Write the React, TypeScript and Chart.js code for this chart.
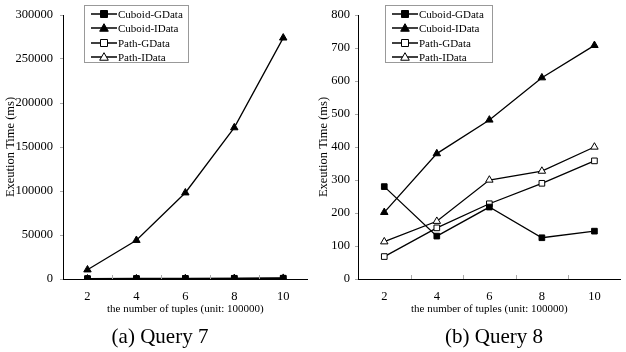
import React, { useEffect, useRef } from 'react';
import { Chart, registerables } from 'chart.js';

Chart.register(...registerables);

// ---- data ----
const categories = ['2', '4', '6', '8', '10'];
const seriesNames = ['Cuboid-GData', 'Cuboid-IData', 'Path-GData', 'Path-IData'];

// Query 7
const q7CuboidGData = [520, 610, 700, 820, 930];
const q7CuboidIData = [10500, 44000, 98000, 172000, 274000];
const q7PathGData = [120, 260, 400, 520, 680];
const q7PathIData = [200, 350, 500, 700, 900];
const q7YTicks = { min: 0, max: 300000, step: 50000 };

// Query 8
const q8CuboidGData = [280, 130, 218, 125, 145];
const q8CuboidIData = [202, 380, 482, 610, 708];
const q8PathGData = [68, 155, 228, 290, 358];
const q8PathIData = [113, 175, 300, 327, 400];
const q8YTicks = { min: 0, max: 800, step: 100 };

const xTitle = 'the number of tuples (unit: 100000)';
const yTitle = 'Exeution Time (ms)';

const FONT = 'Liberation Serif';

const markerStyles = [
  { shape: 'rect', fill: '#000', r: 4 },
  { shape: 'triangle', fill: '#000', r: 4.3 },
  { shape: 'rect', fill: '#fff', r: 4 },
  { shape: 'triangle', fill: '#fff', r: 4.3 },
];

function drawMarker(ctx: CanvasRenderingContext2D, shape: string, x: number, y: number, r: number, fill: string) {
  ctx.save();
  ctx.fillStyle = fill;
  ctx.strokeStyle = '#000';
  ctx.lineWidth = 1;
  ctx.beginPath();
  if (shape === 'rect') {
    ctx.rect(x - r + 0.5, y - r + 0.5, 2 * r - 1, 2 * r - 1);
  } else {
    ctx.moveTo(x, y - r);
    ctx.lineTo(x + r, y + r * 0.75);
    ctx.lineTo(x - r, y + r * 0.75);
    ctx.closePath();
  }
  ctx.fill();
  ctx.stroke();
  ctx.restore();
}

const helperPlugin = {
  id: 'helper',
  afterDraw(chart: any, _args: any, opts: any) {
    const ctx: CanvasRenderingContext2D = chart.ctx;
    const xs = chart.scales.x;
    const area = chart.chartArea;
    // inward x tick marks at category boundaries
    ctx.save();
    ctx.strokeStyle = '#aaa';
    ctx.lineWidth = 1;
    const n = categories.length;
    for (let i = 0; i < n; i++) {
      const next = i < n - 1 ? xs.getPixelForValue(i + 1) : xs.getPixelForValue(i) * 2 - xs.getPixelForValue(i - 1);
      const px = Math.round((xs.getPixelForValue(i) + next) / 2) + 0.5;
      if (px > area.right - 1) continue;
      ctx.beginPath();
      ctx.moveTo(px, area.bottom);
      ctx.lineTo(px, area.bottom - 4);
      ctx.stroke();
    }
    ctx.restore();

    // legend box
    const { lx, ly, lw, lh } = opts;
    ctx.save();
    ctx.fillStyle = '#fff';
    ctx.fillRect(lx, ly, lw, lh);
    ctx.strokeStyle = '#999';
    ctx.lineWidth = 1;
    ctx.strokeRect(lx + 0.5, ly + 0.5, lw, lh);
    const rowYs = [14, 28, 43, 57];
    ctx.font = `11px "${FONT}"`;
    ctx.textBaseline = 'middle';
    ctx.textAlign = 'left';
    seriesNames.forEach((name, i) => {
      const y = rowYs[i];
      const x0 = lx + 7;
      const x1 = lx + 33;
      ctx.strokeStyle = '#000';
      ctx.lineWidth = 1.5;
      ctx.beginPath();
      ctx.moveTo(x0, y);
      ctx.lineTo(x1, y);
      ctx.stroke();
      const m = markerStyles[i];
      drawMarker(ctx, m.shape, (x0 + x1) / 2, y, m.r, m.fill);
      ctx.fillStyle = '#000';
      ctx.fillText(name, x1 + 1, y + 1);
    });
    ctx.restore();
  },
};

interface PanelProps {
  series: number[][];
  yTicks: { min: number; max: number; step: number };
  yAxisWidth: number;
  yTitlePad: number;
  yTickPad: number;
  legendX: number;
  legendW: number;
  padRight: number;
}

function Panel(p: PanelProps) {
  const ref = useRef<HTMLCanvasElement>(null);
  useEffect(() => {
    if (!ref.current) return;
    const datasets = p.series.map((data, i) => {
      const m = markerStyles[i];
      return {
        label: seriesNames[i],
        data,
        borderColor: '#000',
        borderWidth: 1.3,
        backgroundColor: m.fill,
        pointBackgroundColor: m.fill,
        pointBorderColor: '#000',
        pointBorderWidth: 1,
        pointStyle: m.shape,
        pointRadius: m.r,
        tension: 0,
        fill: false,
      };
    });
    const chart = new Chart(ref.current, {
      type: 'line',
      data: { labels: categories, datasets },
      plugins: [helperPlugin],
      options: {
        responsive: false,
        animation: false,
        layout: { padding: { top: 15, right: p.padRight, bottom: 33, left: 0 } },
        plugins: {
          legend: { display: false },
          tooltip: { enabled: false },
          helper: { lx: p.legendX, ly: 5, lw: p.legendW, lh: 57 },
        } as any,
        scales: {
          x: {
            type: 'category',
            offset: true,
            grid: { display: false, drawTicks: false },
            border: { display: true, color: '#000', width: 1 },
            ticks: { color: '#000', padding: 10, font: { family: FONT, size: 12.5 }, maxRotation: 0 },
            title: { display: true, text: xTitle, color: '#000', font: { family: FONT, size: 11 }, padding: { top: 0, bottom: 3 } },
            afterFit: (s: any) => { s.height = 40; },
          },
          y: {
            min: p.yTicks.min,
            max: p.yTicks.max,
            ticks: {
              stepSize: p.yTicks.step,
              color: '#000',
              padding: p.yTickPad,
              font: { family: FONT, size: 12.5 },
              callback: (v: any) => String(v),
            },
            grid: { drawOnChartArea: false, drawTicks: true, tickLength: 3, color: '#aaa' },
            border: { display: true, color: '#000', width: 1 },
            title: { display: true, text: yTitle, color: '#000', font: { family: FONT, size: 12.5 }, padding: { top: p.yTitlePad, bottom: 0 } },
            afterFit: (s: any) => { s.width = p.yAxisWidth; },
          },
        },
      } as any,
    });
    return () => chart.destroy();
  }, []);
  return <canvas ref={ref} width={313} height={352} style={{ display: 'block', width: 313, height: 352 }} />;
}

export default function App() {
  const captionStyle: React.CSSProperties = {
    position: 'absolute',
    top: 324,
    fontFamily: FONT,
    fontSize: 21,
    lineHeight: '24px',
    color: '#000',
    whiteSpace: 'nowrap',
    textAlign: 'center',
    width: 200,
  };
  return (
    <div style={{ position: 'absolute', left: 0, top: 0, width: 626, height: 352, background: '#fff' }}>
      <div style={{ position: 'absolute', left: 0, top: 0 }}>
        <Panel
          series={[q7CuboidGData, q7CuboidIData, q7PathGData, q7PathIData]}
          yTicks={q7YTicks}
          yAxisWidth={63}
          yTitlePad={3}
          yTickPad={7}
          legendX={84}
          legendW={104}
          padRight={1}
        />
      </div>
      <div style={{ position: 'absolute', left: 313, top: 0 }}>
        <Panel
          series={[q8CuboidGData, q8CuboidIData, q8PathGData, q8PathIData]}
          yTicks={q8YTicks}
          yAxisWidth={45}
          yTitlePad={3}
          yTickPad={5}
          legendX={72}
          legendW={107}
          padRight={0}
        />
      </div>
      <div style={{ ...captionStyle, left: 60 }}>(a) Query 7</div>
      <div style={{ ...captionStyle, left: 394 }}>(b) Query 8</div>
    </div>
  );
}
